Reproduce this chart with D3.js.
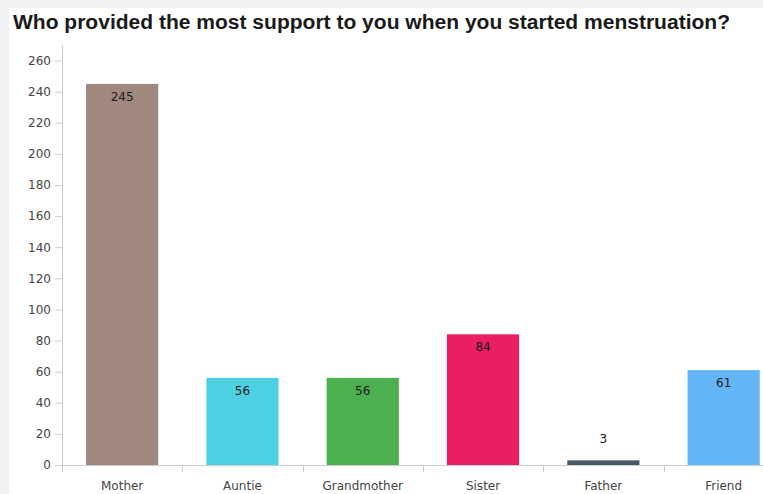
<!DOCTYPE html>
<html>
<head>
<meta charset="utf-8">
<script src="https://cdn.jsdelivr.net/npm/d3@7"></script>
<style>
  html, body { margin: 0; padding: 0; background: #f1f1f1; }
  svg { display: block; }
</style>
</head>
<body>
<svg id="chart" width="763" height="494"></svg>
<script>
// Survey responses: who gave the most support at menarche
const categories = ["Mother", "Auntie", "Grandmother", "Sister", "Father", "Friend"];
const counts = [245, 56, 56, 84, 3, 61];
const barColors = ["#a1887f", "#4dd0e1", "#4caf50", "#e91e63", "#455a64", "#64b5f6"];
const yTicks = [0, 20, 40, 60, 80, 100, 120, 140, 160, 180, 200, 220, 240, 260];
const title = "Who provided the most support to you when you started menstruation?";

const svg = d3.select("#chart");
const W = 763, H = 494;
const labelFont = "DejaVu Sans, Verdana, sans-serif";

// white card
svg.append("rect").attr("x", 9).attr("y", 8).attr("width", W - 9).attr("height", H - 8)
  .attr("fill", "#ffffff");

svg.append("text")
  .attr("x", 13).attr("y", 29)
  .attr("font-family", "Liberation Sans, Arial, sans-serif")
  .attr("font-weight", "bold")
  .attr("font-size", 20)
  .attr("textLength", 717)
  .attr("lengthAdjust", "spacingAndGlyphs")
  .attr("fill", "#1a1a1a")
  .text(title);

const x0 = 62, yBase = 465;
const x = d3.scaleBand().domain(categories).range([x0, x0 + 6 * 120.3]).paddingInner(0.4).paddingOuter(0.2);
const y = d3.scaleLinear().domain([0, 270]).range([yBase, 45]);

// y axis
const yAxis = svg.append("g").attr("transform", `translate(${x0},0)`)
  .call(d3.axisLeft(y).tickValues(yTicks).tickSize(7).tickSizeOuter(0).tickPadding(4));
yAxis.select(".domain").attr("stroke", "#ccc");
yAxis.selectAll(".tick line").attr("stroke", "#ccc");
yAxis.selectAll(".tick text").attr("font-family", labelFont).attr("font-size", 12).attr("fill", "#444");

// bars
svg.append("g").selectAll("rect").data(categories).join("rect")
  .attr("x", d => x(d))
  .attr("width", x.bandwidth())
  .attr("y", (d, i) => y(counts[i]))
  .attr("height", (d, i) => yBase - y(counts[i]))
  .attr("fill", (d, i) => barColors[i]);

// x axis: ticks at band boundaries
const xg = svg.append("g");
xg.append("line").attr("x1", x0).attr("x2", W).attr("y1", yBase + 0.5).attr("y2", yBase + 0.5)
  .attr("stroke", "#ccc");
const bounds = d3.range(categories.length + 1).map(i => x0 + i * (x.range()[1] - x0) / categories.length);
xg.selectAll("line.b").data(bounds).join("line").attr("class", "b")
  .attr("x1", d => Math.round(d) + 0.5).attr("x2", d => Math.round(d) + 0.5)
  .attr("y1", yBase).attr("y2", yBase + 7)
  .attr("stroke", "#ccc");
xg.selectAll("text").data(categories).join("text")
  .attr("x", d => x(d) + x.bandwidth() / 2)
  .attr("y", 490)
  .attr("text-anchor", "middle")
  .attr("font-family", labelFont)
  .attr("font-size", 12)
  .attr("fill", "#444")
  .text(d => d);

// value labels: inside top of bar, or above when the bar is too short
svg.append("g").selectAll("text").data(categories).join("text")
  .attr("x", d => x(d) + x.bandwidth() / 2)
  .attr("y", (d, i) => {
    const top = y(counts[i]);
    return (yBase - top) > 20 ? top + 17 : top - 17;
  })
  .attr("text-anchor", "middle")
  .attr("font-family", labelFont)
  .attr("font-size", 12)
  .attr("fill", "#1a1a1a")
  .text((d, i) => counts[i]);
</script>
</body>
</html>
